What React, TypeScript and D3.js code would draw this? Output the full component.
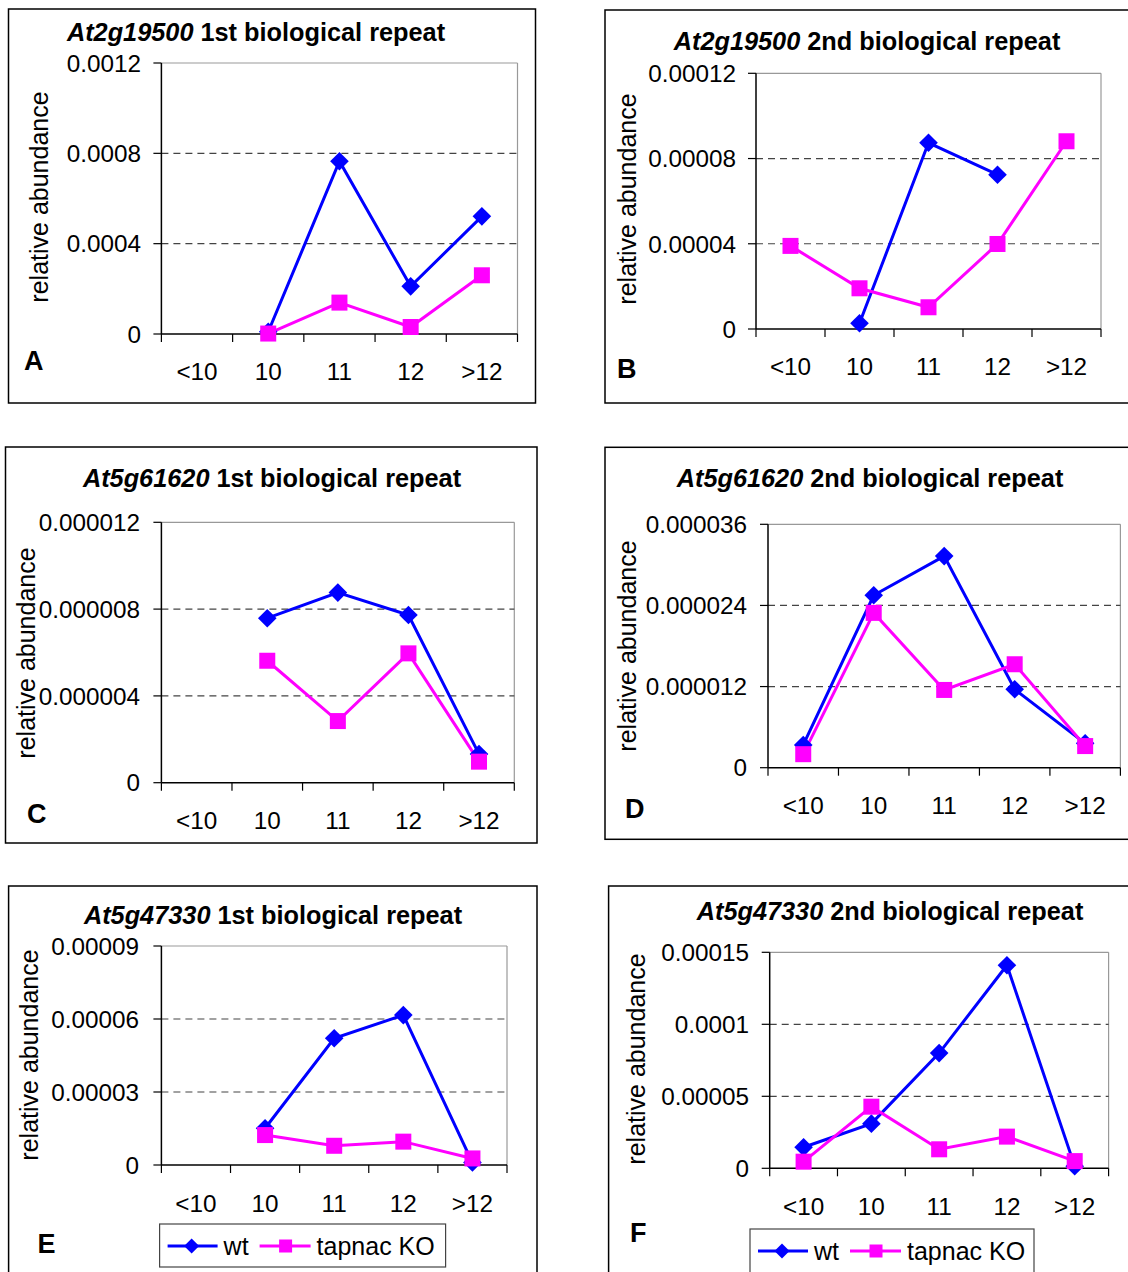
import React from "react";
import * as d3 from "d3";

const categories = ["<10", "10", "11", "12", ">12"];

// values per panel (null = no measurement)
const wtA = [null, 0.00001, 0.000765, 0.000211, 0.000521];
const koA = [null, 0.000002, 0.000139, 0.000031, 0.00026];
const wtB = [null, 0.0000027, 0.0000874, 0.0000724, null];
const koB = [0.000039, 0.0000191, 0.0000102, 0.0000399, 0.0000881];
const wtC = [null, 0.00000758, 0.00000876, 0.00000773, 0.00000132];
const koC = [null, 0.00000562, 0.00000284, 0.00000596, 0.00000097];
const wtD = [0.00000336, 0.0000255, 0.0000313, 0.0000116, 0.0000036];
const koD = [0.000002, 0.0000229, 0.0000115, 0.0000153, 0.0000032];
const wtE = [null, 0.0000151, 0.0000521, 0.0000616, 0.000001];
const koE = [null, 0.0000123, 0.0000079, 0.0000096, 0.0000027];
const wtF = [0.0000146, 0.000031, 0.00008, 0.000141, 0.0000015];
const koF = [0.0000046, 0.0000428, 0.0000132, 0.000022, 0.000005];

const ticksA = ["0", "0.0004", "0.0008", "0.0012"];
const ticksB = ["0", "0.00004", "0.00008", "0.00012"];
const ticksC = ["0", "0.000004", "0.000008", "0.000012"];
const ticksD = ["0", "0.000012", "0.000024", "0.000036"];
const ticksE = ["0", "0.00003", "0.00006", "0.00009"];
const ticksF = ["0", "0.00005", "0.0001", "0.00015"];

const genes = ["At2g19500", "At2g19500", "At5g61620", "At5g61620", "At5g47330", "At5g47330"];
const repeats = ["1st biological repeat", "2nd biological repeat"];
const letters = ["A", "B", "C", "D", "E", "F"];
const seriesNames = ["wt", "tapnac KO"];

const BLUE = "#0000ff";
const PINK = "#ff00ff";
const FONT = "'Liberation Sans', Arial, Helvetica, sans-serif";

// layout of each panel on the page
const layout = [
  { box: [8.5, 9, 527, 394], plot: [161.4, 517.5, 63, 334], titleX: 256, titleY: 41, tickX: 141, ylabX: 48, ylabY: 197, xlabY: 380, letter: [24, 370] },
  { box: [605, 10, 600, 393], plot: [756, 1101, 73.3, 329], titleX: 867, titleY: 50, tickX: 736, ylabX: 636, ylabY: 199, xlabY: 375, letter: [617, 378] },
  { box: [5.5, 447, 531.5, 396], plot: [161.4, 514.3, 522.3, 782.7], titleX: 272, titleY: 487, tickX: 140, ylabX: 35, ylabY: 653, xlabY: 829, letter: [27, 823] },
  { box: [605, 447.3, 600, 392], plot: [768, 1120.4, 524.3, 767.7], titleX: 870, titleY: 487, tickX: 747, ylabX: 635.5, ylabY: 646, xlabY: 814, letter: [625, 818] },
  { box: [8.6, 886, 528.4, 500], plot: [161.4, 507, 946, 1165], titleX: 273, titleY: 924, tickX: 139, ylabX: 37.5, ylabY: 1055, xlabY: 1212, letter: [37.5, 1253], legend: [159.6, 1224, 286, 43] },
  { box: [608.6, 886, 600, 500], plot: [769.7, 1108.6, 952.3, 1168.3], titleX: 890, titleY: 920, tickX: 749, ylabX: 644.5, ylabY: 1059, xlabY: 1215, letter: [630, 1242], legend: [750, 1229, 284, 44] },
];

const panelData = [
  { wt: wtA, ko: koA, ticks: ticksA },
  { wt: wtB, ko: koB, ticks: ticksB },
  { wt: wtC, ko: koC, ticks: ticksC },
  { wt: wtD, ko: koD, ticks: ticksD },
  { wt: wtE, ko: koE, ticks: ticksE },
  { wt: wtF, ko: koF, ticks: ticksF },
];

const diamond = (cx, cy, r) => `M${cx},${cy - r}L${cx + r},${cy}L${cx},${cy + r}L${cx - r},${cy}Z`;

function Marker({ type, x, y, small = false }) {
  if (type === "wt") return <path d={diamond(x, y, small ? 7.5 : 9.3)} fill={BLUE} />;
  const s = small ? 13 : 16;
  return <rect x={x - s / 2} y={y - s / 2} width={s} height={s} fill={PINK} />;
}

function Panel({ i }) {
  const L = layout[i];
  const D = panelData[i];
  const [l, r, t, b] = L.plot;
  const tickVals = D.ticks.map(Number);
  const x = d3.scaleBand().domain(categories).range([l, r]).paddingInner(0).paddingOuter(0);
  const y = d3.scaleLinear().domain([0, tickVals[tickVals.length - 1]]).range([b, t]);
  const cx = (c) => x(c) + x.bandwidth() / 2;

  const line = d3
    .line()
    .defined((d) => d[1] != null)
    .x((d) => cx(d[0]))
    .y((d) => y(d[1]));

  const wtPts = categories.map((c, k) => [c, D.wt[k]]);
  const koPts = categories.map((c, k) => [c, D.ko[k]]);
  const bounds = categories.map((c) => x(c)).concat([r]);

  return (
    <g>
      <rect x={L.box[0]} y={L.box[1]} width={L.box[2]} height={L.box[3]} fill="#fff" stroke="#000" strokeWidth={1.5} />
      <text x={L.titleX} y={L.titleY} textAnchor="middle" fontSize={25.3} fontWeight="bold">
        <tspan fontStyle="italic">{genes[i]}</tspan>
        <tspan> {repeats[i % 2]}</tspan>
      </text>
      {/* plot frame */}
      <line x1={l} x2={r} y1={t} y2={t} stroke="#999" strokeWidth={1.2} />
      <line x1={r} x2={r} y1={t} y2={b} stroke="#999" strokeWidth={1.2} />
      {tickVals.slice(1, -1).map((v) => (
        <line key={v} x1={l} x2={r} y1={y(v)} y2={y(v)} stroke="#444" strokeWidth={1.2} strokeDasharray="7,5" />
      ))}
      <line x1={l} x2={l} y1={t} y2={b} stroke="#000" strokeWidth={1.5} />
      <line x1={l} x2={r} y1={b} y2={b} stroke="#000" strokeWidth={1.5} />
      {tickVals.map((v, k) => (
        <g key={k}>
          <line x1={l - 8} x2={l} y1={y(v)} y2={y(v)} stroke="#000" strokeWidth={1.2} />
          <text x={L.tickX} y={y(v)} dy="0.36em" textAnchor="end" fontSize={24.3}>
            {D.ticks[k]}
          </text>
        </g>
      ))}
      {bounds.map((bx, k) => (
        <line key={k} x1={bx} x2={bx} y1={b} y2={b + 8} stroke="#000" strokeWidth={1.2} />
      ))}
      {categories.map((c) => (
        <text key={c} x={cx(c)} y={L.xlabY} textAnchor="middle" fontSize={24.3}>
          {c}
        </text>
      ))}
      <text transform={`translate(${L.ylabX},${L.ylabY}) rotate(-90)`} textAnchor="middle" fontSize={25}>
        relative abundance
      </text>
      <text x={L.letter[0]} y={L.letter[1]} fontSize={27} fontWeight="bold">
        {letters[i]}
      </text>
      <path d={line(wtPts)} fill="none" stroke={BLUE} strokeWidth={3} />
      <path d={line(koPts)} fill="none" stroke={PINK} strokeWidth={3} />
      {wtPts.filter((d) => d[1] != null).map((d) => (
        <Marker key={"w" + d[0]} type="wt" x={cx(d[0])} y={y(d[1])} />
      ))}
      {koPts.filter((d) => d[1] != null).map((d) => (
        <Marker key={"k" + d[0]} type="ko" x={cx(d[0])} y={y(d[1])} />
      ))}
      {L.legend && (
        <g transform={`translate(${L.legend[0]},${L.legend[1]})`}>
          <rect width={L.legend[2]} height={L.legend[3]} fill="#fff" stroke="#444" strokeWidth={1.2} />
          <line x1={8} x2={58} y1={22} y2={22} stroke={BLUE} strokeWidth={3} />
          <Marker type="wt" x={32} y={22} small />
          <text x={64} y={22} dy="0.36em" fontSize={25}>{seriesNames[0]}</text>
          <line x1={100} x2={151} y1={22} y2={22} stroke={PINK} strokeWidth={3} />
          <Marker type="ko" x={126} y={22} small />
          <text x={157} y={22} dy="0.36em" fontSize={25}>{seriesNames[1]}</text>
        </g>
      )}
    </g>
  );
}

export default function App() {
  return (
    <svg
      width={1128}
      height={1272}
      style={{ position: "absolute", left: 0, top: 0, background: "#fff" }}
      fontFamily={FONT}
    >
      <rect width={1128} height={1272} fill="#fff" />
      {layout.map((_, i) => (
        <Panel key={i} i={i} />
      ))}
    </svg>
  );
}
